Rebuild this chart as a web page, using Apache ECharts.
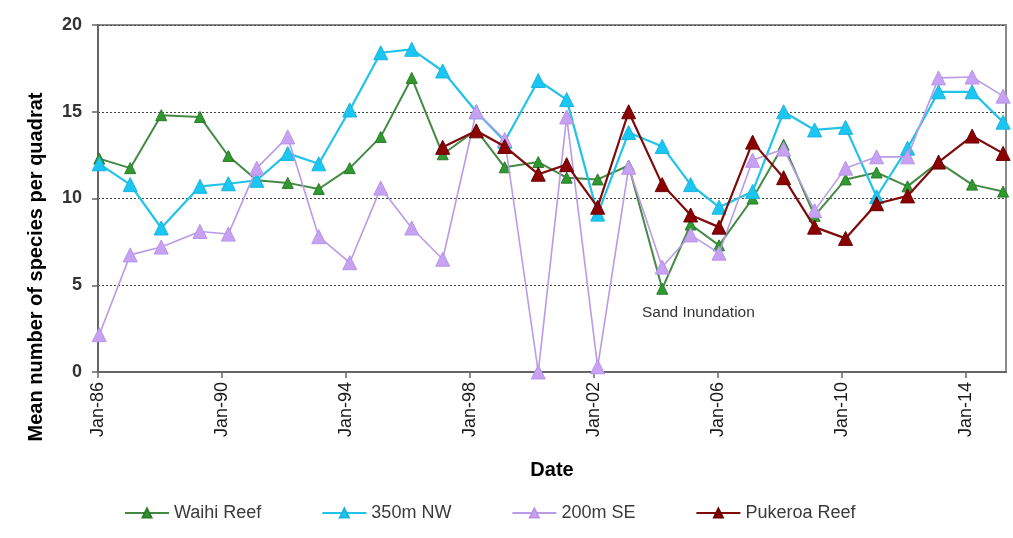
<!DOCTYPE html>
<html>
<head>
<meta charset="utf-8">
<script src="https://cdn.jsdelivr.net/npm/echarts@6/dist/echarts.min.js"></script>
<style>
  html, body { margin: 0; padding: 0; background: #ffffff; }
  #chart { width: 1013px; height: 538px; }
</style>
</head>
<body>
<div id="chart"></div>
<script>
// Survey dates (year-month) shared by all sites
const sampleDates = ['1986-01','1987-01','1988-01','1989-04','1990-03','1991-02','1992-02','1993-02',
  '1994-02','1995-02','1996-02','1997-02','1998-03','1999-02','2000-03','2001-02','2002-02','2003-02',
  '2004-03','2005-02','2006-01','2007-02','2008-02','2009-02','2010-02','2011-02','2012-02','2013-02',
  '2014-03','2015-03'];

// Mean number of species per quadrat at each site
const waihiReef = [12.3, 11.75, 14.8, 14.7, 12.45, 11.05, 10.9, 10.55, 11.75, 13.55, 16.95, 12.55,
  13.95, 11.8, 12.1, 11.2, 11.1, 11.9, 4.8, 8.5, 7.3, 10.0, 13.1, 9.0, 11.1, 11.5, 10.7, 12.1, 10.8, 10.4];
const nw350m = [12.0, 10.8, 8.3, 10.7, 10.85, 11.05, 12.6, 12.0, 15.1, 18.4, 18.6, 17.35,
  15.0, 13.3, 16.8, 15.7, 9.1, 13.8, 13.0, 10.8, 9.5, 10.4, 15.0, 13.95, 14.1, 10.1, 12.9, 16.15, 16.15, 14.4];
const se200m = [2.15, 6.75, 7.2, 8.1, 7.95, 11.75, 13.55, 7.8, 6.3, 10.6, 8.3, 6.5,
  15.0, 13.4, 0, 14.7, 0.3, 11.8, 6.05, 7.9, 6.85, 12.2, 12.85, 9.3, 11.75, 12.4, 12.4, 16.95, 17.0, 15.9];
const pukeroaReef = [null, null, null, null, null, null, null, null, null, null, null, 12.95,
  13.9, 13.0, 11.4, 11.95, 9.5, 15.0, 10.8, 9.05, 8.35, 13.25, 11.2, 8.35, 7.7, 9.7, 10.15, 12.1, 13.6, 12.6];

const seriesNames = ['Waihi Reef', '350m NW', '200m SE', 'Pukeroa Reef'];
const xTickLabels = ['Jan-86', 'Jan-90', 'Jan-94', 'Jan-98', 'Jan-02', 'Jan-06', 'Jan-10', 'Jan-14'];
const yTickValues = [0, 5, 10, 15, 20];
const note = { text: 'Sand Inundation', date: '2005-05', value: 3.4 };

const BASE_YEAR = 1986;
// years elapsed since Jan 1986, taking the middle of the month
function toAxis(ym) {
  const [y, m] = ym.split('-').map(Number);
  return (y - BASE_YEAR) + (m - 1) / 12 + 0.04;
}
function pairs(values) {
  const out = [];
  values.forEach((v, i) => { if (v !== null) out.push([toAxis(sampleDates[i]), v]); });
  return out;
}

const styles = [
  { line: '#448a44', fill: '#2f9a2f', border: '#2a7a2a', width: 2, size: 11 },
  { line: '#22c3ea', fill: '#1cc6f2', border: '#18b4dc', width: 2.2, size: 14 },
  { line: '#b99be6', fill: '#c7a2f2', border: '#b993ea', width: 1.6, size: 14 },
  { line: '#7f0a0a', fill: '#8b0000', border: '#6a0000', width: 2.2, size: 14 }
];
const dataSets = [waihiReef, nw350m, se200m, pukeroaReef];

const chart = echarts.init(document.getElementById('chart'), null, { renderer: 'canvas' });

const baseFont = 'Liberation Sans, Arial, sans-serif';

chart.setOption({
  animation: false,
  backgroundColor: '#ffffff',
  textStyle: { fontFamily: baseFont },
  grid: {
    left: 98, right: 7, top: 25, bottom: 166,
    show: true, borderColor: '#8a8a8a', borderWidth: 2, backgroundColor: 'transparent'
  },
  legend: {
    left: 119, top: 499,
    itemWidth: 44, itemHeight: 11, itemGap: 60,
    textStyle: { fontSize: 18, color: '#3a3a3a', fontFamily: baseFont },
    data: seriesNames
  },
  xAxis: {
    type: 'value',
    min: 0, max: 29.3, interval: 4,
    name: 'Date', nameLocation: 'middle', nameGap: 88,
    nameTextStyle: { fontSize: 20, fontWeight: 'bold', color: '#000', fontFamily: baseFont },
    axisLine: { show: true, lineStyle: { color: '#666', width: 2 } },
    axisTick: { show: true, length: 6, lineStyle: { color: '#666', width: 1.5 } },
    axisLabel: {
      rotate: 90, fontSize: 18, color: '#1a1a1a', margin: 10,
      showMaxLabel: false,
      formatter: v => xTickLabels[Math.round(v / 4)] || ''
    },
    splitLine: { show: false }
  },
  yAxis: {
    type: 'value',
    min: yTickValues[0], max: yTickValues[yTickValues.length - 1], interval: 5,
    axisLine: { show: true, lineStyle: { color: '#666', width: 2 } },
    axisTick: { show: true, length: 6, lineStyle: { color: '#666', width: 1.5 } },
    axisLabel: { fontSize: 18, fontWeight: 'bold', color: '#333', margin: 16 },
    splitLine: { show: true, lineStyle: { color: '#444', width: 1, type: [2, 2] } }
  },
  series: dataSets.map((vals, i) => ({
    name: seriesNames[i],
    type: 'line',
    data: pairs(vals),
    symbol: 'triangle',
    symbolSize: styles[i].size,
    showAllSymbol: true,
    clip: false,
    lineStyle: { color: styles[i].line, width: styles[i].width },
    itemStyle: { color: styles[i].fill, borderColor: styles[i].border, borderWidth: 1 },
    z: 2 + i
  }))
});

// annotation and rotated axis title
const notePos = chart.convertToPixel({ gridIndex: 0 }, [toAxis(note.date), note.value]);
chart.setOption({
  graphic: [
    {
      type: 'text', x: notePos[0], y: notePos[1],
      style: { text: note.text, fontSize: 15.5, fill: '#333', fontFamily: baseFont,
               align: 'center', verticalAlign: 'middle' }
    },
    {
      type: 'text', x: 36, y: 267, rotation: Math.PI / 2,
      style: { text: 'Mean number of species per quadrat', fontSize: 20, fontWeight: 'bold',
               fill: '#000', fontFamily: baseFont, align: 'center', verticalAlign: 'middle' }
    }
  ]
});
</script>
</body>
</html>
